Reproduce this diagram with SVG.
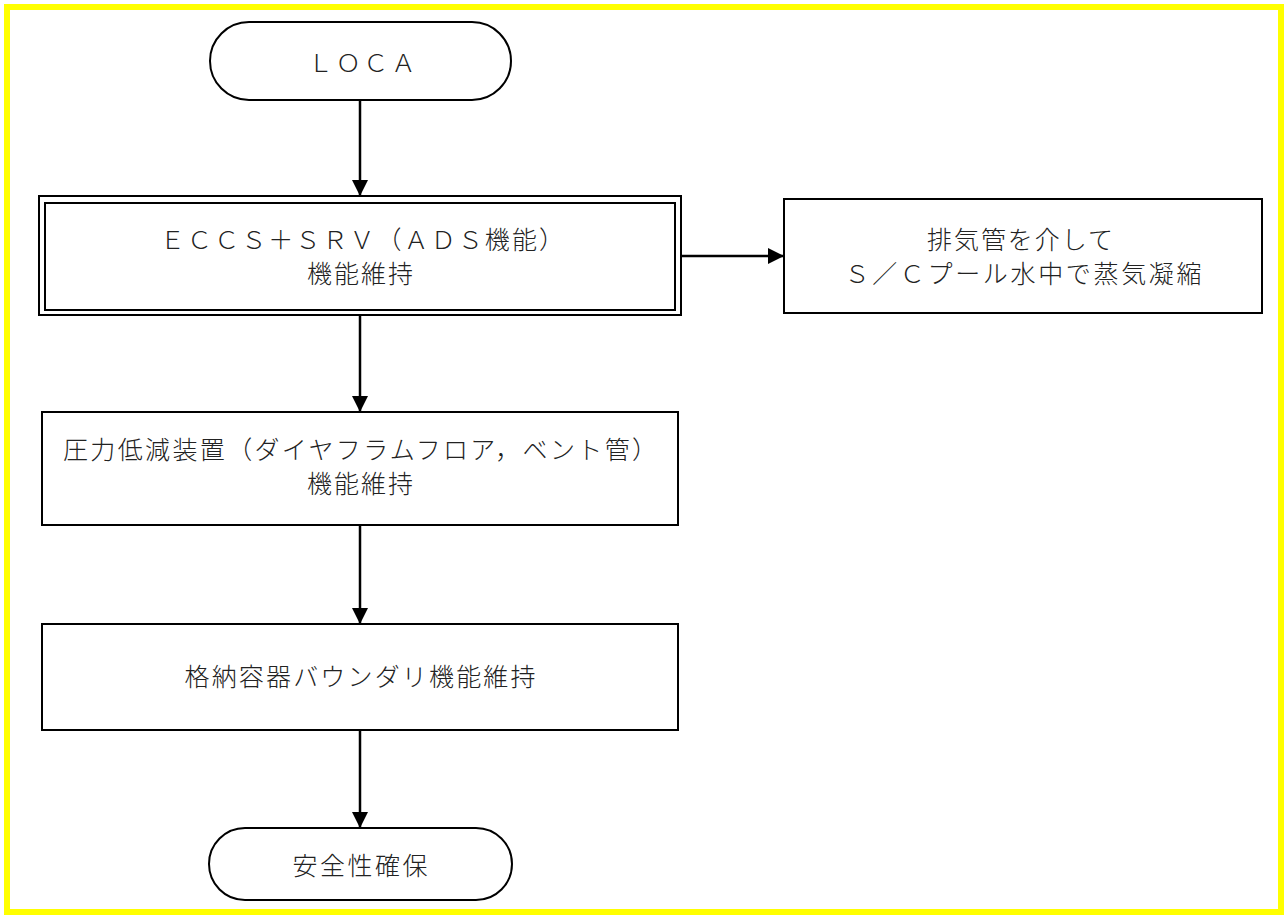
<svg xmlns="http://www.w3.org/2000/svg" width="1288" height="922" viewBox="0 0 1288 922">
<defs>
<marker id="arr" markerUnits="userSpaceOnUse" markerWidth="16" markerHeight="16" refX="16" refY="8" orient="auto">
<path d="M0,0 L16,8 L0,16 z" fill="#000"/>
</marker>
<style>
.box{fill:#fff;stroke:#000;stroke-width:2}
.conn{fill:none;stroke:#000;stroke-width:2.5;marker-end:url(#arr)}
.t{font-family:"Noto Sans CJK JP","Noto Sans CJK SC",sans-serif;font-size:25px;font-weight:300;fill:#222;text-anchor:middle}
</style>
</defs>
<rect x="0" y="0" width="1288" height="922" fill="#fff"/>
<rect x="7" y="7" width="1274" height="905" fill="none" stroke="#ffff00" stroke-width="6"/>
<g id="connectors">
<line class="conn" x1="360" y1="100" x2="360" y2="196"/>
<line class="conn" x1="681" y1="256" x2="784" y2="256"/>
<line class="conn" x1="360" y1="315" x2="360" y2="412"/>
<line class="conn" x1="360" y1="525" x2="360" y2="624"/>
<line class="conn" x1="360" y1="730" x2="360" y2="828"/>
</g>
<g id="loca">
<rect class="box" x="210" y="22" width="301" height="78" rx="39" ry="39"/>
<text class="t" x="362" y="72" textLength="108" lengthAdjust="spacing">ＬＯＣＡ</text>
</g>
<g id="eccs">
<rect class="box" x="39" y="196" width="642" height="119"/>
<rect class="box" x="45" y="203" width="630" height="107"/>
<text class="t" x="362" y="249" textLength="404" lengthAdjust="spacing">ＥＣＣＳ＋ＳＲＶ（ＡＤＳ機能）</text>
<text class="t" x="360" y="283" textLength="106" lengthAdjust="spacing">機能維持</text>
</g>
<g id="exhaust">
<rect class="box" x="784" y="199" width="478" height="114"/>
<text class="t" x="1020" y="249" textLength="186" lengthAdjust="spacing">排気管を介して</text>
<text class="t" x="1023" y="283" textLength="357" lengthAdjust="spacing">Ｓ／Ｃプール水中で蒸気凝縮</text>
</g>
<g id="pressure">
<rect class="box" x="42" y="412" width="636" height="113"/>
<text class="t" x="360" y="459" textLength="594" lengthAdjust="spacing">圧力低減装置（ダイヤフラムフロア，ベント管）</text>
<text class="t" x="360" y="493" textLength="106" lengthAdjust="spacing">機能維持</text>
</g>
<g id="boundary">
<rect class="box" x="42" y="624" width="636" height="106"/>
<text class="t" x="360" y="686" textLength="351" lengthAdjust="spacing">格納容器バウンダリ機能維持</text>
</g>
<g id="safety">
<rect class="box" x="209" y="828" width="303" height="72" rx="36" ry="36"/>
<text class="t" x="360" y="875" textLength="135" lengthAdjust="spacing">安全性確保</text>
</g>
</svg>
